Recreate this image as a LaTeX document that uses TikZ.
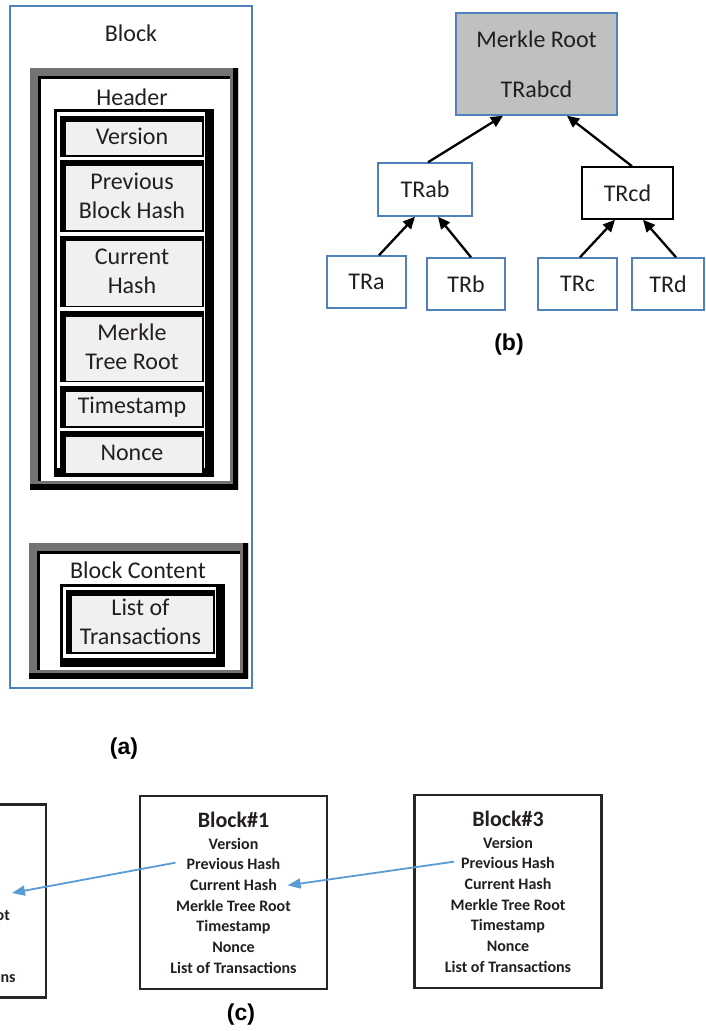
\documentclass[tikz,border=0pt]{standalone}
\usepackage{fontspec}
\setmainfont{Carlito}
\newfontfamily\tagfont{Liberation Sans}
\usetikzlibrary{positioning, arrows.meta}

\definecolor{boxblue}{RGB}{79,129,189}
\definecolor{linkblue}{RGB}{91,155,213}
\definecolor{fieldgray}{RGB}{240,240,240}
\definecolor{framegray}{RGB}{115,115,115}
\definecolor{rootgray}{RGB}{192,192,192}
\definecolor{ink}{RGB}{35,31,32}

\tikzset{
    calfont/.style = {font=\fontsize{24}{29}\selectfont, text=ink},
    fieldbox/.style = {calfont, draw=black, line width=1.5pt, fill=fieldgray,
        inner sep=0pt, minimum width=142pt, minimum height=40pt, align=center,
        path picture={\draw[line width=10pt]
            (path picture bounding box.south west) -- (path picture bounding box.north west)
            -- (path picture bounding box.north east);}},
    fieldholder/.style = {draw=black, line width=3pt, fill=white, inner sep=0pt,
        path picture={\draw[line width=14pt]
            (path picture bounding box.south west) -- (path picture bounding box.south east)
            -- (path picture bounding box.north east);}},
    shadeframe/.style = {fill=white, inner sep=0pt,
        path picture={
            \draw[framegray, line width=16pt]
                (path picture bounding box.south west) rectangle (path picture bounding box.north east);
            \draw[line width=3.5pt]
                ([shift={(9.5,-8)}]path picture bounding box.south west)
                -- ([shift={(9.5,9.5)}]path picture bounding box.north west)
                -- ([shift={(-8,9.5)}]path picture bounding box.north east);
            \draw[line width=10pt]
                (path picture bounding box.south west) -- (path picture bounding box.south east)
                -- (path picture bounding box.north east);}},
    treenode/.style = {calfont, draw=boxblue, line width=1.5pt, fill=white,
        inner sep=0pt, minimum height=52pt},
    treearrow/.style = {-{Triangle[length=12pt, width=11pt]}, line width=2.3pt},
    chainbox/.style = {draw=black!85, line width=2.5pt, inner sep=0pt,
        minimum width=187pt, minimum height=193pt},
    chaintitle/.style = {font=\fontsize{22}{26}\selectfont\bfseries, text=ink},
    chainline/.style = {font=\fontsize{16}{20}\selectfont\bfseries, text=ink,
        inner sep=0pt, text height=11pt, text depth=3pt},
    linkarrow/.style = {draw=linkblue, line width=1.8pt, -{Triangle[length=13pt, width=10pt]}},
    tag/.style = {font=\tagfont\bfseries\fontsize{23}{27}\selectfont}
}

\begin{document}
\begin{tikzpicture}[x=1pt, y=-1pt]
    \useasboundingbox (0,0) rectangle (706,1031);
    \clip (0,0) rectangle (706,1031);

    % (a) block
    \node[draw=boxblue, line width=1.5pt, minimum width=242pt, minimum height=682pt] (block) at (131,347) {};
    \node[calfont] (blocklbl) at (131,33) {Block};

    \node[shadeframe, minimum width=208pt, minimum height=421pt] (hdr) at (134,278.5) {};
    \node[calfont] (hdrlbl) at (132,97) {Header};
    \node[fieldholder, minimum width=157pt, minimum height=365pt] (hdrbox) at (133.5,292.5) {};
    \node[fieldbox, minimum height=39pt] (ver) at (132,136.5) {Version};
    \node[fieldbox, minimum height=70pt] (prev) [below=3.7pt of ver] {Previous\\Block Hash};
    \node[fieldbox, minimum height=70pt] (cur) [below=3.7pt of prev] {Current\\Hash};
    \node[fieldbox, minimum height=70pt] (mtr) [below=3.7pt of cur] {Merkle\\Tree Root};
    \node[fieldbox] (time) [below=3.7pt of mtr] {Timestamp};
    \node[fieldbox, minimum height=42pt] (nonce) [below=3.7pt of time] {Nonce};

    \node[shadeframe, minimum width=219pt, minimum height=135pt] (cnt) at (138.5,610.5) {};
    \node[calfont] (cntlbl) at (138,570) {Block Content};
    \node[fieldholder, minimum width=162pt, minimum height=80pt] (lstbox) at (142,625) {};
    \node[fieldbox, minimum width=147pt, minimum height=62pt] (lst) at (140.5,622) {List of\\Transactions};
    \node[tag] (taga) at (124,749) {(a)};

    % (b) merkle tree
    \node[treenode, fill=rootgray, minimum width=161pt, minimum height=102pt, align=center] (root) at (536.5,64) {Merkle Root\\[21pt]TRabcd};
    \node[treenode, minimum width=94pt, minimum height=53pt] (trab) at (425,189.5) {TRab};
    \node[treenode, draw=black, minimum width=91pt] (trcd) at (627.5,193) {TRcd};
    \node[treenode, minimum width=79pt] (tra) at (366.5,282) {TRa};
    \node[treenode, minimum width=78pt] (trb) at (466,284) {TRb};
    \node[treenode, minimum width=79pt] (trc) at (577.5,284) {TRc};
    \node[treenode, minimum width=72pt] (trd) at (668,284) {TRd};
    \node[tag] (tagb) at (509,345) {(b)};

    \draw[treearrow] ([xshift=3pt]trab.north) -- ([xshift=-33.5pt]root.south);
    \draw[treearrow] ([xshift=4.5pt]trcd.north) -- ([xshift=30.5pt]root.south);
    \draw[treearrow] ([xshift=12.5pt]tra.north) -- ([xshift=-10pt]trab.south);
    \draw[treearrow] ([xshift=5pt]trb.north) -- ([xshift=13pt]trab.south);
    \draw[treearrow] ([xshift=2.5pt]trc.north) -- ([xshift=-12.5pt]trcd.south);
    \draw[treearrow] ([xshift=8pt]trd.north) -- ([xshift=15.5pt]trcd.south);

    % (c) chain of blocks
    \node[chainbox] (blk0) at (-47.5,901) {};
    \node[chainline] (blk0-4) at (-47.5,916.3) {Merkle Tree Root};
    \node[chainline] (blk0-7) at (-47.5,978.3) {List of Transactions};
    \coordinate (blk0in) at (12,893);
    \foreach \b/\x/\t in {1/233.5/796, 3/508/795} {
        \node[chainbox] (blk\b) at (\x,\t+96.5) {};
        \node[chaintitle] (blk\b-0) at (\x,\t+24) {Block\#\b};
        \foreach \f [count=\i] in {Version, Previous Hash, Current Hash, Merkle Tree Root, Timestamp, Nonce, List of Transactions}
            \node[chainline] (blk\b-\i) at (\x,\t+28.33+20.67*\i) {\f};
    }
    \draw[linkarrow] ([shift={(-11,-3)}]blk1-2.west) -- (blk0in);
    \draw[linkarrow] ([shift={(-7,-3)}]blk3-2.west) -- ([shift={(10.5,-1)}]blk1-3.east);
    \node[tag] (tagc) at (241,1015) {(c)};
\end{tikzpicture}
\end{document}
